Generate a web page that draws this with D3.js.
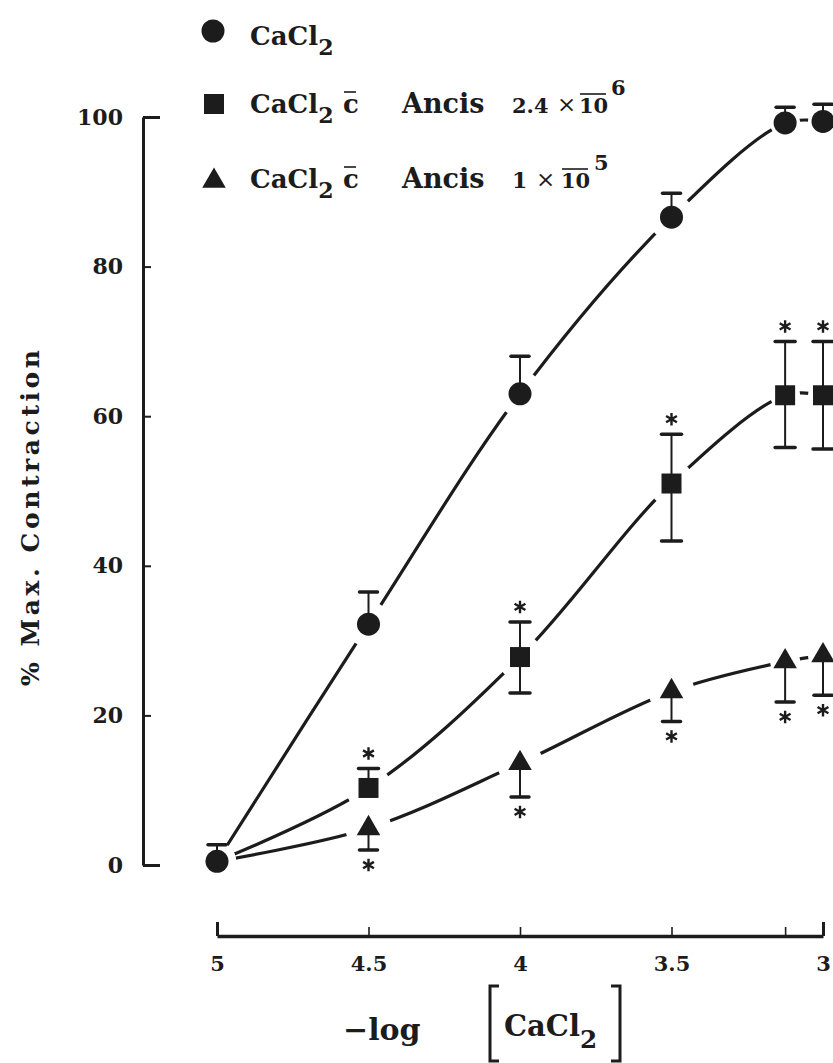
<!DOCTYPE html>
<html>
<head>
<script src="https://cdnjs.cloudflare.com/ajax/libs/d3/7.8.5/d3.min.js"></script>
<style>
  body { margin: 0; background: #fff; }
  text { font-family: "DejaVu Serif", serif; font-weight: bold; fill: #1c1c1c; }
</style>
</head>
<body>
<script>
// x values: -log[CaCl2]
var logConc = [5, 4.5, 4, 3.5, 3.125, 3];

// CaCl2 alone (circles) with upper error bar ends
var cacl2 = [0.5, 32.2, 63, 86.6, 99.2, 99.4];
var cacl2Up = [2.7, 36.5, 68, 89.8, 101.3, 101.7];

// CaCl2 + Ancis 2.4e-6 (squares)
var ancisLow = [0.5, 10.3, 27.8, 51, 62.8, 62.8];
var ancisLowUp = [null, 12.9, 32.5, 57.6, 70, 70];
var ancisLowDown = [null, null, 23, 43.3, 55.8, 55.6];
var ancisLowStar = [false, true, true, true, true, true];

// CaCl2 + Ancis 1e-5 (triangles)
var ancisHigh = [0.5, 4.9, 13.6, 23.2, 27.2, 28];
var ancisHighDown = [null, 2.0, 9.1, 19.2, 21.8, 22.7];
var ancisHighStar = [false, true, true, true, true, true];

var yTicks = [0, 20, 40, 60, 80, 100];
var xTicks = [5, 4.5, 4, 3.5, 3];
var xMinor = [3.125];

var width = 833, height = 1063;
var ink = "#1c1c1c";

var svg = d3.select("body").append("svg").attr("width", width).attr("height", height);

var x = d3.scaleLinear().domain([5, 3]).range([217, 823]);
var y = d3.scaleLinear().domain([0, 100]).range([865, 117]);

// y axis
var yAxis = svg.append("g").attr("transform", "translate(143,0)")
    .call(d3.axisLeft(y).tickValues(yTicks).tickSizeInner(-8).tickSizeOuter(0).tickPadding(20));
yAxis.select(".domain").attr("stroke", ink).attr("stroke-width", 3);
yAxis.selectAll(".tick line").attr("stroke", ink)
    .attr("x2", function(d) { return (d === 0 || d === 100) ? 17 : 8; })
    .attr("stroke-width", function(d) { return (d === 0 || d === 100) ? 3 : 2; });
yAxis.selectAll(".tick text").style("font-family", "DejaVu Serif").style("font-weight", "bold")
    .style("font-size", "22px").attr("fill", ink);

// x axis
var xAxis = svg.append("g").attr("transform", "translate(0,936)")
    .call(d3.axisBottom(x).tickValues(xTicks.concat(xMinor)).tickSizeInner(-8).tickSizeOuter(0).tickPadding(20)
        .tickFormat(function(d) { return xMinor.indexOf(d) >= 0 ? "" : d; }));
xAxis.select(".domain").attr("stroke", ink).attr("stroke-width", 3.5);
xAxis.selectAll(".tick line").attr("stroke", ink)
    .attr("y2", function(d) { return (d === 5 || d === 3) ? -14 : -9; })
    .attr("stroke-width", function(d) { return (d === 5 || d === 3) ? 3 : 1.6; });
xAxis.selectAll(".tick text").style("font-family", "DejaVu Serif").style("font-weight", "bold")
    .style("font-size", "21px").attr("fill", ink);

// curves
var line = d3.line()
    .x(function(d) { return x(d[0]); })
    .y(function(d) { return y(d[1]); })
    .curve(d3.curveCatmullRom.alpha(0.5));

var allSeries = [cacl2, ancisLow, ancisHigh];
allSeries.forEach(function(vals) {
    svg.append("path")
        .datum(d3.zip(logConc, vals))
        .attr("d", line)
        .attr("fill", "none")
        .attr("stroke", ink)
        .attr("stroke-width", 3.2)
        .attr("stroke-linecap", "round");
});

// white knock-outs so curves stop short of the markers
var gapR = [19, 23, 23, 23, 15, 15];
allSeries.forEach(function(vals) {
    svg.append("g").selectAll("circle")
        .data(d3.zip(logConc, vals))
        .join("circle")
        .attr("cx", function(d) { return x(d[0]); })
        .attr("cy", function(d) { return y(d[1]); })
        .attr("r", function(d, i) { return gapR[i]; })
        .attr("fill", "#fff");
});

// error bars
function errBars(vals, ends, capW) {
    var g = svg.append("g");
    logConc.forEach(function(c, i) {
        if (ends[i] == null) return;
        g.append("line")
            .attr("x1", x(c)).attr("x2", x(c))
            .attr("y1", y(vals[i])).attr("y2", y(ends[i]))
            .attr("stroke", ink).attr("stroke-width", 2);
        g.append("line")
            .attr("x1", x(c) - capW / 2).attr("x2", x(c) + capW / 2)
            .attr("y1", y(ends[i])).attr("y2", y(ends[i]))
            .attr("stroke", ink).attr("stroke-width", 3.5)
            .attr("stroke-linecap", "round");
    });
}
errBars(cacl2, cacl2Up, 18);
errBars(ancisLow, ancisLowUp, 20);
errBars(ancisLow, ancisLowDown, 20);
errBars(ancisHigh, ancisHighDown, 18);

// significance stars
var star = d3.symbol().type(d3.symbolAsterisk).size(110);
function stars(ends, flags, offset) {
    logConc.forEach(function(c, i) {
        if (!flags[i]) return;
        svg.append("path")
            .attr("d", star())
            .attr("transform", "translate(" + x(c) + "," + (y(ends[i]) + offset) + ")")
            .attr("fill", "none").attr("stroke", ink).attr("stroke-width", 2.4);
    });
}
stars(ancisLowUp, ancisLowStar, -15);
stars(ancisHighDown, ancisHighStar, 15);

// markers
svg.append("g").selectAll("circle")
    .data(d3.zip(logConc, cacl2)).join("circle")
    .attr("cx", function(d) { return x(d[0]); })
    .attr("cy", function(d) { return y(d[1]); })
    .attr("r", 11.5).attr("fill", ink);

var square = d3.symbol().type(d3.symbolSquare).size(400);
svg.append("g").selectAll("path")
    .data(d3.zip(logConc, ancisLow).slice(1)).join("path")
    .attr("d", square())
    .attr("transform", function(d) { return "translate(" + x(d[0]) + "," + y(d[1]) + ")"; })
    .attr("fill", ink);

var tri = d3.symbol().type(d3.symbolTriangle).size(240);
svg.append("g").selectAll("path")
    .data(d3.zip(logConc, ancisHigh).slice(1)).join("path")
    .attr("d", tri())
    .attr("transform", function(d) { return "translate(" + x(d[0]) + "," + y(d[1]) + ")"; })
    .attr("fill", ink);

// legend
var lg = svg.append("g");
lg.append("circle").attr("cx", 213).attr("cy", 31).attr("r", 11.5).attr("fill", ink);
lg.append("path").attr("d", square()).attr("transform", "translate(214,104)").attr("fill", ink);
lg.append("path").attr("d", tri()).attr("transform", "translate(214,181)").attr("fill", ink);

function cacl(g, x0, base, size) {
    var t = g.append("text").attr("x", x0).attr("y", base).style("font-size", size + "px");
    t.append("tspan").text("CaCl");
    t.append("tspan").attr("dy", size * 0.4).style("font-size", (size * 0.85) + "px").text("2");
}
cacl(lg, 250, 45, 26);
cacl(lg, 250, 113, 26);
cacl(lg, 250, 188, 26);

function withAncis(base, conc, concSize, concX, timesX, tenX) {
    lg.append("text").attr("x", 343).attr("y", base).style("font-size", "26px").text("c");
    lg.append("line").attr("x1", 344).attr("x2", 356).attr("y1", base - 21).attr("y2", base - 21)
        .attr("stroke", ink).attr("stroke-width", 1.6);
    lg.append("text").attr("x", 402).attr("y", base).style("font-size", "27px").text("Ancis");
    lg.append("text").attr("x", concX).attr("y", base).style("font-size", concSize + "px").text(conc);
    lg.append("text").attr("x", timesX).attr("y", base - 1).style("font-size", "23px")
        .style("font-weight", "normal").text("\u00d7");
    lg.append("text").attr("x", tenX).attr("y", base).style("font-size", "21px").text("10");
    lg.append("line").attr("x1", tenX + 1).attr("x2", tenX + 27).attr("y1", base - 19).attr("y2", base - 19)
        .attr("stroke", ink).attr("stroke-width", 1.6);
}
withAncis(113, "2.4", 21, 512, 557, 579);
lg.append("text").attr("x", 611).attr("y", 95).style("font-size", "21px").text("6");
withAncis(188, "1", 22, 512, 536, 561);
lg.append("text").attr("x", 594).attr("y", 170).style("font-size", "21px").text("5");

// y title
svg.append("text")
    .attr("transform", "translate(39,518) rotate(-90)")
    .attr("text-anchor", "middle")
    .style("font-size", "25px")
    .attr("textLength", 336).attr("lengthAdjust", "spacing")
    .text("% Max. Contraction");

// x title
svg.append("text").attr("x", 343).attr("y", 1040).style("font-size", "30px").text("\u2212log");
cacl(svg, 504, 1036, 29);
svg.append("path").attr("d", "M499,986 H490 V1061 H499").attr("fill", "none").attr("stroke", ink).attr("stroke-width", 3);
svg.append("path").attr("d", "M611,986 H620 V1061 H611").attr("fill", "none").attr("stroke", ink).attr("stroke-width", 3);
</script>
</body>
</html>
